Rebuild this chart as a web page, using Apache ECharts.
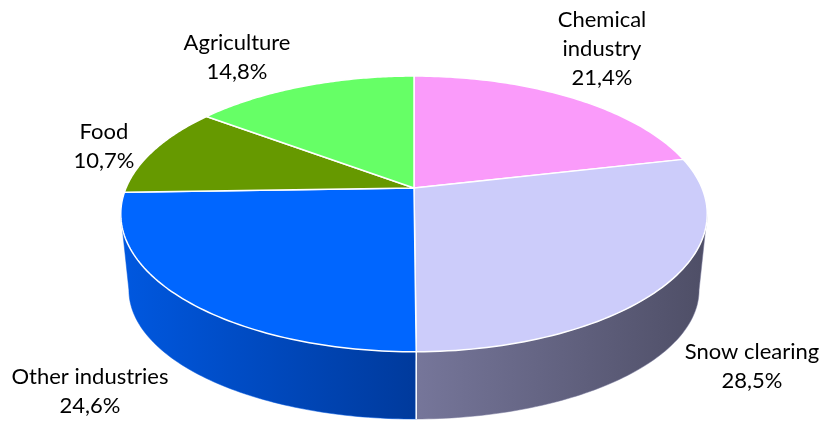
<!DOCTYPE html>
<html>
<head>
<meta charset="utf-8">
<script src="https://cdn.jsdelivr.net/npm/echarts@6/dist/echarts.min.js"></script>
<style>
  html, body { margin: 0; padding: 0; background: #fff; }
  #main { width: 825px; height: 423px; }
</style>
</head>
<body>
<div id="main"></div>
<script>
const categories = ['Chemical industry', 'Snow clearing', 'Other industries', 'Food', 'Agriculture'];
const labelNames = ['Chemical\nindustry', 'Snow clearing', 'Other industries', 'Food', 'Agriculture'];
const shares = [21.4, 28.5, 24.6, 10.7, 14.8];

const topColors = ['#FA9BFA', '#CCCCFA', '#0066FF', '#669900', '#66FF66'];
const wallColors = [
    ['#B070B0', '#904E90'],
    ['#76769A', '#4E4E66'],
    ['#0058E0', '#003A9C'],
    ['#4E7700', '#3A5A00'],
    ['#4CC04C', '#3A963A']
];
// label block centres (layout only)
const labelAt = [[602, 49], [752, 366], [90, 391], [104, 146], [237, 57]];

// projection of the pie disc (perspective look from above)
const topFace = { cx: 414, cy: 188, a: 288, b: 133, k: 0.188 };
const bottomFace = { cx: 414, cy: 265.7, a: 280, b: 124.5, k: 0.188 };

const chart = echarts.init(document.getElementById('main'));

const total = shares.reduce((s, v) => s + v, 0);
const starts = [];
let acc = 0;
shares.forEach(v => { starts.push(acc); acc += v; });

function proj(P, th) {
    const x = Math.sin(th), y = -Math.cos(th);
    const d = 1 - P.k * y;
    return [P.cx + P.a * x / d, P.cy + P.b * y / d];
}

function arc(P, a0, a1, n) {
    const pts = [];
    for (let i = 0; i <= n; i++) {
        pts.push(proj(P, a0 + (a1 - a0) * i / n));
    }
    return pts;
}

function sliceAngles(idx, value) {
    const a0 = starts[idx] / total * Math.PI * 2;
    const a1 = (starts[idx] + value) / total * Math.PI * 2;
    return [a0, a1];
}

function fmt(v) {
    return v.toFixed(1).replace('.', ',') + '%';
}

// side silhouette: where the rim's screen-x is extreme (-cos th = k)
const FRONT0 = Math.acos(-topFace.k), FRONT1 = 2 * Math.PI - FRONT0;

function renderWall(params, api) {
    const idx = params.dataIndex;
    const [a0, a1] = sliceAngles(idx, api.value(0));
    const s = Math.max(a0, FRONT0), e = Math.min(a1, FRONT1);
    const children = [];
    if (s < e) {
        const top = arc(topFace, s, e, 80);
        const bot = arc(bottomFace, s, e, 80).reverse();
        children.push({
            type: 'polygon',
            shape: { points: top.concat(bot) },
            style: {
                fill: new echarts.graphic.LinearGradient(0, 0, 1, 0, [
                    { offset: 0, color: wallColors[idx][0] },
                    { offset: 1, color: wallColors[idx][1] }
                ]),
                stroke: wallColors[idx][0],
                lineWidth: 0.5
            }
        });
        // white seam at slice edges that face the viewer
        [a0, a1].forEach(a => {
            if (a > FRONT0 && a < FRONT1) {
                const p = proj(topFace, a), q = proj(bottomFace, a);
                children.push({
                    type: 'line',
                    shape: { x1: p[0], y1: p[1], x2: q[0], y2: q[1] },
                    style: { stroke: '#fff', lineWidth: 1.5 }
                });
            }
        });
    }
    return { type: 'group', children: children };
}

function renderTop(params, api) {
    const idx = params.dataIndex;
    const [a0, a1] = sliceAngles(idx, api.value(0));
    const pts = [[topFace.cx, topFace.cy]].concat(arc(topFace, a0, a1, 80));
    return {
        type: 'group',
        children: [
            {
                type: 'polygon',
                shape: { points: pts },
                style: { fill: topColors[idx], stroke: '#fff', lineWidth: 1.5, lineJoin: 'round' }
            },
            {
                type: 'text',
                style: {
                    text: labelNames[idx] + '\n' + fmt(api.value(0)),
                    x: labelAt[idx][0],
                    y: labelAt[idx][1],
                    align: 'center',
                    verticalAlign: 'middle',
                    fill: '#000',
                    font: '22px Lato',
                    lineHeight: 29
                }
            }
        ]
    };
}

const data = shares.map((v, i) => ({ value: v, name: categories[i] }));

chart.setOption({
    animation: false,
    series: [
        {
            type: 'custom',
            name: 'walls',
            coordinateSystem: 'none',
            renderItem: renderWall,
            data: data,
            z: 1,
            silent: true
        },
        {
            type: 'custom',
            name: 'tops',
            coordinateSystem: 'none',
            renderItem: renderTop,
            data: data,
            z: 2,
            silent: true
        }
    ]
});

window.addEventListener('resize', function () {
    chart.resize();
});
</script>
</body>
</html>
